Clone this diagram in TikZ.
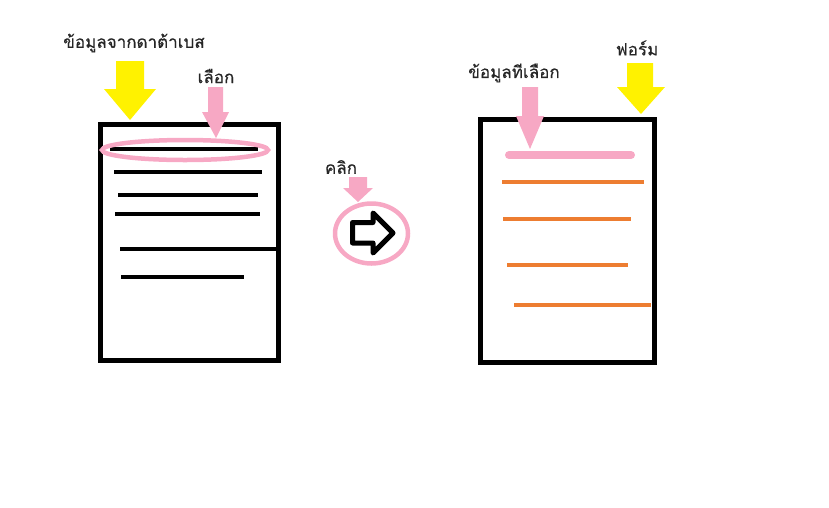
\documentclass[tikz,border=0pt]{standalone}
\usepackage{fontspec}
\newfontfamily\thaifont[Script=Thai,FakeBold=0.5]{Loma}
\definecolor{listpink}{HTML}{F7A8C4}
\definecolor{listyellow}{HTML}{FFF200}
\definecolor{listorange}{HTML}{ED7D31}
\tikzset{
    listbox/.style={draw=black, line width=5pt},
    rowline/.style={draw=black, line width=4pt},
    formline/.style={draw=listorange, line width=4pt},
    pinkring/.style={draw=listpink, line width=4.5pt},
    thailabel/.style={inner sep=0pt, font=\thaifont\fontsize{17}{20}\selectfont, text=black!85}
}
% Down arrow: colour, shaft left, shaft right, top, head y, wing left, wing right, tip x, tip y
\newcommand{\downblock}[9]{\fill[#1] (#2,#4) -- (#3,#4) -- (#3,#5) -- (#7,#5) -- (#8,#9) -- (#6,#5) -- (#2,#5) -- cycle;}
\begin{document}
\begin{tikzpicture}[x=1pt,y=-1pt]
    \useasboundingbox (0,0) rectangle (829,507);

    % Database list
    \draw[listbox] (100.5,124.5) rectangle (278,360);
    \draw[rowline] (110,149) -- (258,149);
    \draw[rowline] (114,172) -- (262,172);
    \draw[rowline] (118,195) -- (258,195);
    \draw[rowline] (115,214) -- (260,214);
    \draw[rowline] (120,249) -- (276,249);
    \draw[rowline] (121,277) -- (244,277);

    % Selected row
    \draw[pinkring] (185,150) ellipse (83 and 10);

    % Arrows above the list
    \downblock{listyellow}{116}{144}{61}{89}{104}{156}{130}{120}
    \downblock{listpink}{208}{223}{87}{112}{202}{229}{216}{138}
    \node[thailabel] (dblabel) at (134,43) {ข้อมูลจากดาต้าเบส};
    \node[thailabel] (picklabel) at (216,76) {เลือก};

    % Click button
    \draw[pinkring] (371.5,233.5) ellipse (36.5 and 30);
    \draw[black, line width=5pt, line join=round, fill=white]
        (352.5,222.5) -- (373,222.5) -- (373,213) -- (393,233) -- (373,253) -- (373,243) -- (352.5,243) -- cycle;
    \downblock{listpink}{349}{367}{177}{188}{343}{373}{358}{202}
    \node[thailabel] (clicklabel) at (341,167) {คลิก};

    % Form
    \draw[listbox] (480,119) rectangle (654,362);
    \draw[listpink, line width=8pt, line cap=round] (509,155) -- (631,155);
    \draw[formline] (502,182) -- (644,182);
    \draw[formline] (503,219) -- (631,219);
    \draw[formline] (507,265) -- (628,265);
    \draw[formline] (514,305) -- (651,305);

    % Arrows above the form
    \downblock{listpink}{522}{538}{87}{116}{516}{544}{530}{149}
    \downblock{listyellow}{627}{653}{63}{87}{617}{665}{641}{114}
    \node[thailabel] (selectedlabel) at (514,73) {ข้อมูลทีเลือก};
    \node[thailabel] (formlabel) at (637,48) {ฟอร์ม};
\end{tikzpicture}
\end{document}
